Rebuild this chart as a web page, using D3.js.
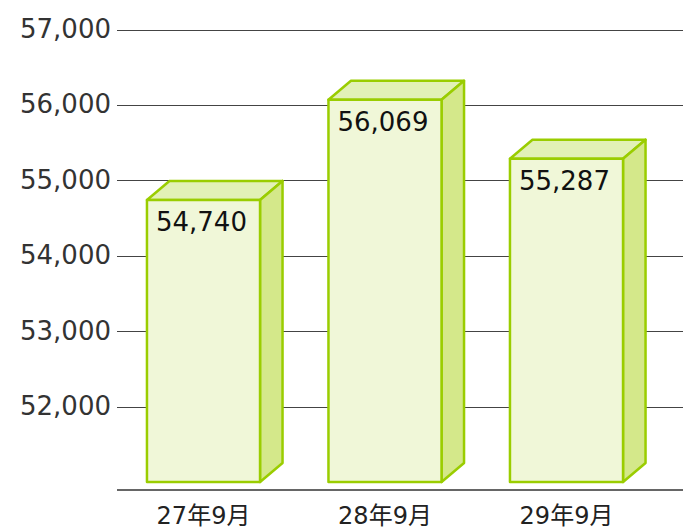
<!DOCTYPE html>
<html>
<head>
<meta charset="utf-8">
<script src="https://cdn.jsdelivr.net/npm/d3@7"></script>
<style>
  body { margin: 0; background: #fff; }
  #svg-container { width: 683px; height: 531px; }
</style>
</head>
<body>
<div id="svg-container"></div>
<script>
// chart data
const categories = ['27年9月', '28年9月', '29年9月'];
const values = [54740, 56069, 55287];
const tickValues = [52000, 53000, 54000, 55000, 56000, 57000];
const yDomain = [51000, 57000];

// chart params
const params = {
    width: 683,
    height: 531,
    gridLeft: 117,
    xRange: [112.75, 657.25],
    yRange: [482, 29.5],
    baseLine: 490,
    barPadding: 0.377,
    depthX: 22.5,
    depthY: 19,
    frontColor: '#f0f7d8',
    topColor: '#e2f1b6',
    sideColor: '#d4e88a',
    strokeColor: '#9acd00',
    gridColor: '#444',
    font: '"DejaVu Sans", "Noto Sans CJK JP", sans-serif'
};

const svg = d3.select('#svg-container')
    .append('svg')
    .attr('width', params.width)
    .attr('height', params.height);

const x = d3.scaleBand()
    .domain(categories)
    .range(params.xRange)
    .paddingInner(params.barPadding)
    .paddingOuter(params.barPadding / 2);

const y = d3.scaleLinear().domain(yDomain).range(params.yRange);

// grid lines
svg.append('g')
    .attr('class', 'grid')
    .selectAll('line')
    .data(tickValues)
    .join('line')
    .attr('x1', params.gridLeft)
    .attr('x2', params.width)
    .attr('y1', d => Math.round(y(d)) + 0.5)
    .attr('y2', d => Math.round(y(d)) + 0.5)
    .attr('stroke', params.gridColor)
    .attr('stroke-width', 1);

// y labels
svg.append('g')
    .attr('class', 'y-labels')
    .selectAll('text')
    .data(tickValues)
    .join('text')
    .attr('x', params.gridLeft - 6)
    .attr('y', d => y(d))
    .attr('dy', '0.33em')
    .attr('text-anchor', 'end')
    .style('font-family', params.font)
    .style('font-size', '26px')
    .style('fill', '#333')
    .text(d => d3.format(',')(d));

// bottom line
svg.append('line')
    .attr('x1', params.gridLeft)
    .attr('x2', params.width)
    .attr('y1', params.baseLine)
    .attr('y2', params.baseLine)
    .attr('stroke', '#666')
    .attr('stroke-width', 2);

// 3d bars
const bars = svg.append('g')
    .attr('class', 'bars')
    .selectAll('g.bar')
    .data(categories.map((c, i) => ({ name: c, value: values[i] })))
    .join('g')
    .attr('class', 'bar');

const dx = params.depthX, dy = params.depthY;
const faceAttrs = sel => sel
    .attr('stroke', params.strokeColor)
    .attr('stroke-width', 2.5)
    .attr('stroke-linejoin', 'round');

// top face
bars.append('polygon')
    .attr('points', d => {
        const x0 = x(d.name), x1 = x0 + x.bandwidth(), t = y(d.value);
        return [[x0, t], [x0 + dx, t - dy], [x1 + dx, t - dy], [x1, t]].join(' ');
    })
    .attr('fill', params.topColor)
    .call(faceAttrs);

// side face
bars.append('polygon')
    .attr('points', d => {
        const x1 = x(d.name) + x.bandwidth(), t = y(d.value), b = y(yDomain[0]);
        return [[x1, t], [x1 + dx, t - dy], [x1 + dx, b - dy], [x1, b]].join(' ');
    })
    .attr('fill', params.sideColor)
    .call(faceAttrs);

// front face
bars.append('rect')
    .attr('x', d => x(d.name))
    .attr('y', d => y(d.value))
    .attr('width', x.bandwidth())
    .attr('height', d => y(yDomain[0]) - y(d.value))
    .attr('fill', params.frontColor)
    .call(faceAttrs);

// value labels
bars.append('text')
    .attr('x', d => x(d.name) + 9)
    .attr('y', d => y(d.value) + 31)
    .style('font-family', params.font)
    .style('font-size', '26px')
    .style('fill', '#111')
    .text(d => d3.format(',')(d.value));

// category labels
svg.append('g')
    .attr('class', 'x-labels')
    .selectAll('text')
    .data(categories)
    .join('text')
    .attr('x', d => x(d) + x.bandwidth() / 2)
    .attr('y', 524)
    .attr('text-anchor', 'middle')
    .style('font-family', params.font)
    .style('font-size', '24px')
    .style('fill', '#222')
    .text(d => d);
</script>
</body>
</html>
